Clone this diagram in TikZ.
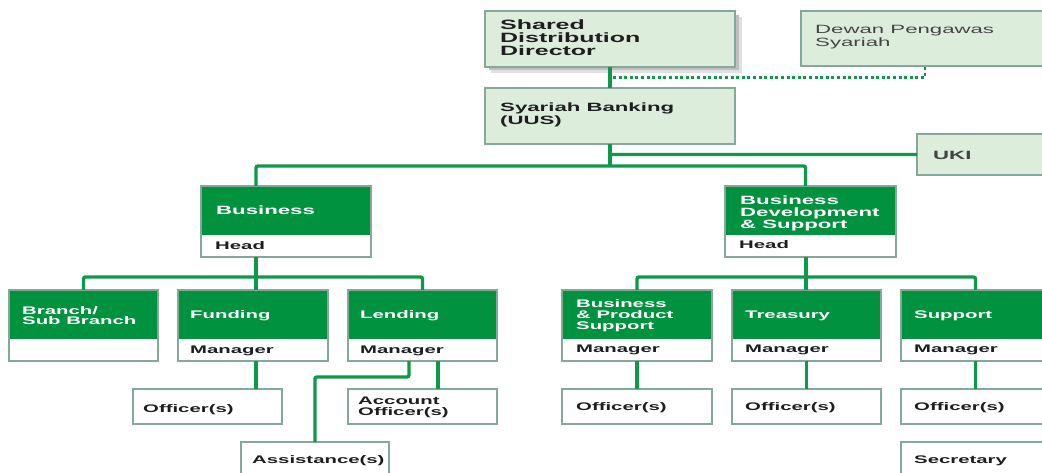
\documentclass[tikz,border=0pt]{standalone}
\usepackage{fontspec}
\setmainfont{Liberation Sans}[FakeStretch=1.85]
\usetikzlibrary{calc}
\definecolor{dg}{HTML}{00923F}
\definecolor{lg}{HTML}{0B9A48}
\definecolor{lf}{HTML}{DDEDDC}
\definecolor{bc}{HTML}{86A898}
\definecolor{tx}{HTML}{1E1E1E}
\definecolor{tx2}{HTML}{444444}
\newcommand{\mkbox}[6]{%
  \node[#1, anchor=north west, minimum width={#5-#3}, minimum height={#6-#4}] (#2) at (#3,#4) {};}
\newcommand{\mkgbox}[5]{%
  \fill[dg] (#2,#3) rectangle (#4,#3+#5);
  \node[gbox, anchor=north west, minimum width={#4-#2}, minimum height=71] (#1) at (#2,#3) {};}
\begin{document}
\begin{tikzpicture}[x=1pt,y=-1pt,
  conn/.style={draw=lg, line width=3.4pt, rounded corners=2pt},
  dotc/.style={draw=lg, line width=2.6pt, dash pattern=on 3pt off 2.6pt},
  lbox/.style={draw=bc, fill=lf, line width=1.3pt, inner sep=0pt, outer sep=0pt},
  wbox/.style={draw=bc, fill=white, line width=1.3pt, inner sep=0pt, outer sep=0pt},
  gbox/.style={draw=bc, line width=1.3pt, inner sep=0pt, outer sep=0pt},
  ttl/.style={text=white, font=\bfseries\fontsize{11}{10.5}\selectfont, align=left, inner sep=0pt, anchor=base west},
  subt/.style={text=tx, font=\bfseries\fontsize{11}{11}\selectfont, align=left, inner sep=0pt, anchor=base west},
  lt/.style={text=tx, font=\bfseries\fontsize{12}{10.5}\selectfont, align=left, inner sep=0pt, anchor=base west}]
\useasboundingbox (0,0) rectangle (1042,472);
\clip (0,0) rectangle (1042,472);
% shadow of director box
\fill[black!12] (491,17) rectangle (742,73);
\fill[black!25] (489,15) rectangle (739,70);
% light boxes
\mkbox{lbox}{dsd}{485}{11}{735}{67}
\mkbox{lbox}{uus}{485}{88}{735}{144}
\mkbox{lbox}{dewan}{801}{11}{1060}{66}
\mkbox{lbox}{uki}{917}{134}{1060}{175}
% green two-part boxes
\mkgbox{bus}{201}{186}{371}{49}
\mkgbox{bds}{725}{186}{896}{49}
\mkgbox{branch}{9}{290}{158}{49}
\mkgbox{fund}{178}{290}{328}{49}
\mkgbox{lend}{348}{290}{497}{49}
\mkgbox{bps}{562}{290}{712}{49}
\mkgbox{tre}{732}{290}{881}{49}
\mkgbox{sup}{901}{290}{1050}{49}
% white boxes
\mkbox{wbox}{offa}{133}{389}{282}{424}
\mkbox{wbox}{acc}{348}{389}{497}{424}
\mkbox{wbox}{assist}{241}{442}{389}{482}
\mkbox{wbox}{offb}{562}{389}{712}{424}
\mkbox{wbox}{offc}{732}{389}{881}{424}
\mkbox{wbox}{offd}{901}{389}{1050}{424}
\mkbox{wbox}{sec}{901}{442}{1050}{482}
% connectors
\coordinate (dotstart) at ($(dsd.south)!0.5!(uus.north)$);
\draw[dotc] ([xshift=3pt]dotstart) -| ([xshift=124pt]dewan.south west);
\draw[conn] (dsd.south) -- (uus.north);
\draw[conn] (uus.south) |- (uki.west);
\coordinate (topbar) at (610,166);
\draw[conn] (uus.south) -- (topbar);
\draw[conn] ([xshift=-30pt]bus.north) |- (topbar) -| ([xshift=-5pt]bds.north);
\coordinate (busbar) at (256,277);
\draw[conn] ([xshift=-30pt]bus.south) -- (busbar);
\draw[conn] (branch.north) |- (busbar) -| (lend.north);
\draw[conn] (busbar) -- (busbar |- fund.north);
\coordinate (bdsbar) at (806,277);
\draw[conn] ([xshift=-4.5pt]bds.south) -- (bdsbar);
\draw[conn] (bps.north) |- (bdsbar) -| (sup.north);
\draw[conn] (bdsbar) -- (bdsbar |- tre.north);
\draw[conn] ([xshift=3pt]fund.south) -- ([xshift=3pt]fund.south |- offa.north);
\draw[conn] ([xshift=-13.5pt]lend.south) -- ++(0,16) -| (assist.north);
\draw[conn] ([xshift=15.5pt]lend.south) -- ([xshift=15.5pt]lend.south |- acc.north);
\draw[conn] (bps.south) -- (offb.north);
\draw[conn] (tre.south) -- (offc.north);
\draw[conn] (sup.south) -- (offd.north);
% texts (multi-line nodes: base = last line)
\node[lt, font=\bfseries\fontsize{13.5}{12.8}\selectfont] (dsd-t) at (500,55) {Shared\\Distribution\\Director};
\node[lt] (uus-t) at (500,124) {Syariah Banking\\(UUS)};
\node[lt, text=tx2, font=\fontsize{12}{11}\selectfont] (dewan-t) at (815,46) {Dewan Pengawas\\Syariah};
\node[lt, text=tx2] (uki-t) at (933,159) {UKI};
\node[ttl, font=\bfseries\fontsize{12}{11}\selectfont] (bus-t) at (216,214) {Business};
\node[subt] (bus-h) at (215,249) {Head};
\node[ttl, font=\bfseries\fontsize{12}{11.8}\selectfont] (bds-t) at (740,228) {Business\\Development\\\& Support};
\node[subt] (bds-h) at (739,248) {Head};
\node[ttl, font=\bfseries\fontsize{11}{10}\selectfont] (branch-t) at (22,324) {Branch/\\Sub Branch};
\node[ttl, font=\bfseries\fontsize{11}{11}\selectfont] (bps-t) at (576,329) {Business\\\& Product\\Support};
\node[ttl] (fund-t) at (190,318) {Funding};
\node[subt] (fund-m) at (190,353) {Manager};
\node[ttl] (lend-t) at (360,318) {Lending};
\node[subt] (lend-m) at (360,353) {Manager};
\node[subt] (bps-m) at (576,352) {Manager};
\node[ttl] (tre-t) at (745,318) {Treasury};
\node[subt] (tre-m) at (745,352) {Manager};
\node[ttl] (sup-t) at (914,318) {Support};
\node[subt] (sup-m) at (914,352) {Manager};
\node[subt] (offa-t) at (143,412) {Officer(s)};
\node[subt] (acc-t) at (358,415) {Account\\Officer(s)};
\node[subt] (assist-t) at (252,463) {Assistance(s)};
\node[subt] (offb-t) at (576,410) {Officer(s)};
\node[subt] (offc-t) at (745,410) {Officer(s)};
\node[subt] (offd-t) at (914,410) {Officer(s)};
\node[subt] (sec-t) at (914,463) {Secretary};
\end{tikzpicture}
\end{document}
